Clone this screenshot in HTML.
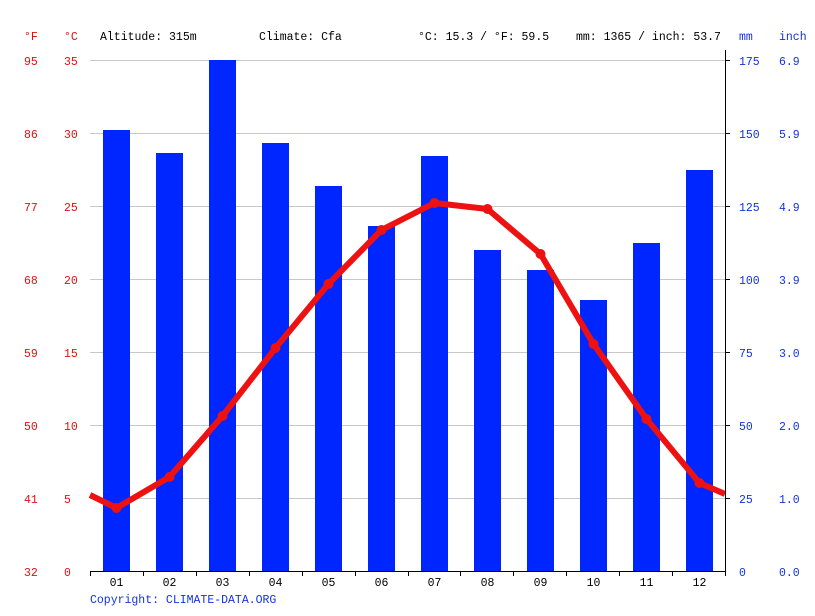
<!DOCTYPE html>
<html><head><meta charset="utf-8"><style>
body{margin:0;background:#fff}
svg text{font-family:"Liberation Mono","DejaVu Sans Mono",monospace;font-size:11.5px}
</style></head><body>
<svg width="815" height="611" viewBox="0 0 815 611" xmlns="http://www.w3.org/2000/svg">
<g stroke="#c8c8c8" stroke-width="1">
<line x1="90" y1="60.5" x2="725" y2="60.5"/>
<line x1="90" y1="133.5" x2="725" y2="133.5"/>
<line x1="90" y1="206.5" x2="725" y2="206.5"/>
<line x1="90" y1="279.5" x2="725" y2="279.5"/>
<line x1="90" y1="352.5" x2="725" y2="352.5"/>
<line x1="90" y1="425.5" x2="725" y2="425.5"/>
<line x1="90" y1="498.5" x2="725" y2="498.5"/>
</g>
<g fill="#0026ff">
<rect x="103" y="130" width="27" height="441"/>
<rect x="156" y="153" width="27" height="418"/>
<rect x="209" y="60" width="27" height="511"/>
<rect x="262" y="143" width="27" height="428"/>
<rect x="315" y="186" width="27" height="385"/>
<rect x="368" y="226" width="27" height="345"/>
<rect x="421" y="156" width="27" height="415"/>
<rect x="474" y="250" width="27" height="321"/>
<rect x="527" y="270" width="27" height="301"/>
<rect x="580" y="300" width="27" height="271"/>
<rect x="633" y="243" width="27" height="328"/>
<rect x="686" y="170" width="27" height="401"/>
</g>
<polyline fill="none" stroke="#ee1111" stroke-width="6" stroke-linejoin="round" points="90,495 116.5,508 169.5,477 222.5,416 275.5,348 328.5,284 381.5,230 434.5,203 487.5,209 540.5,254 593.5,344 646.5,419 699.5,483 725,494"/>
<g fill="#ee1111">
<circle cx="116.5" cy="508" r="5"/><circle cx="169.5" cy="477" r="5"/><circle cx="222.5" cy="416" r="5"/><circle cx="275.5" cy="348" r="5"/><circle cx="328.5" cy="284" r="5"/><circle cx="381.5" cy="230" r="5"/><circle cx="434.5" cy="203" r="5"/><circle cx="487.5" cy="209" r="5"/><circle cx="540.5" cy="254" r="5"/><circle cx="593.5" cy="344" r="5"/><circle cx="646.5" cy="419" r="5"/><circle cx="699.5" cy="483" r="5"/>
</g>
<g stroke="#000" stroke-width="1">
<line x1="90" y1="571.5" x2="725" y2="571.5"/>
<line x1="725.5" y1="50" x2="725.5" y2="571"/>
<line x1="90.5" y1="571" x2="90.5" y2="576"/><line x1="143.5" y1="571" x2="143.5" y2="576"/><line x1="196.5" y1="571" x2="196.5" y2="576"/><line x1="249.5" y1="571" x2="249.5" y2="576"/><line x1="302.5" y1="571" x2="302.5" y2="576"/><line x1="355.5" y1="571" x2="355.5" y2="576"/><line x1="408.5" y1="571" x2="408.5" y2="576"/><line x1="460.5" y1="571" x2="460.5" y2="576"/><line x1="513.5" y1="571" x2="513.5" y2="576"/><line x1="566.5" y1="571" x2="566.5" y2="576"/><line x1="619.5" y1="571" x2="619.5" y2="576"/><line x1="672.5" y1="571" x2="672.5" y2="576"/><line x1="725.5" y1="571" x2="725.5" y2="576"/>
<line x1="725" y1="60.5" x2="730" y2="60.5"/><line x1="725" y1="133.5" x2="730" y2="133.5"/><line x1="725" y1="206.5" x2="730" y2="206.5"/><line x1="725" y1="279.5" x2="730" y2="279.5"/><line x1="725" y1="352.5" x2="730" y2="352.5"/><line x1="725" y1="425.5" x2="730" y2="425.5"/><line x1="725" y1="498.5" x2="730" y2="498.5"/>
</g>
<g fill="#000" text-anchor="middle">
<text x="116.5" y="586">01</text><text x="169.5" y="586">02</text><text x="222.5" y="586">03</text><text x="275.5" y="586">04</text><text x="328.5" y="586">05</text><text x="381.5" y="586">06</text><text x="434.5" y="586">07</text><text x="487.5" y="586">08</text><text x="540.5" y="586">09</text><text x="593.5" y="586">10</text><text x="646.5" y="586">11</text><text x="699.5" y="586">12</text>
</g>
<g fill="#000">
<text x="100" y="40">Altitude: 315m</text>
<text x="259" y="40">Climate: Cfa</text>
<text x="418" y="40">°C: 15.3 / °F: 59.5</text>
<text x="576" y="40">mm: 1365 / inch: 53.7</text>
</g>
<g fill="#dd1111">
<text x="24" y="40">°F</text><text x="64" y="40">°C</text>
<text x="24" y="65">95</text><text x="64" y="65">35</text>
<text x="24" y="138">86</text><text x="64" y="138">30</text>
<text x="24" y="211">77</text><text x="64" y="211">25</text>
<text x="24" y="284">68</text><text x="64" y="284">20</text>
<text x="24" y="357">59</text><text x="64" y="357">15</text>
<text x="24" y="430">50</text><text x="64" y="430">10</text>
<text x="24" y="503">41</text><text x="64" y="503">5</text>
<text x="24" y="576">32</text><text x="64" y="576">0</text>
</g>
<g fill="#1133dd">
<text x="739" y="40">mm</text><text x="779" y="40">inch</text>
<text x="739" y="65">175</text><text x="779" y="65">6.9</text>
<text x="739" y="138">150</text><text x="779" y="138">5.9</text>
<text x="739" y="211">125</text><text x="779" y="211">4.9</text>
<text x="739" y="284">100</text><text x="779" y="284">3.9</text>
<text x="739" y="357">75</text><text x="779" y="357">3.0</text>
<text x="739" y="430">50</text><text x="779" y="430">2.0</text>
<text x="739" y="503">25</text><text x="779" y="503">1.0</text>
<text x="739" y="576">0</text><text x="779" y="576">0.0</text>
<text x="90" y="603">Copyright: CLIMATE-DATA.ORG</text>
</g>
</svg>
</body></html>
